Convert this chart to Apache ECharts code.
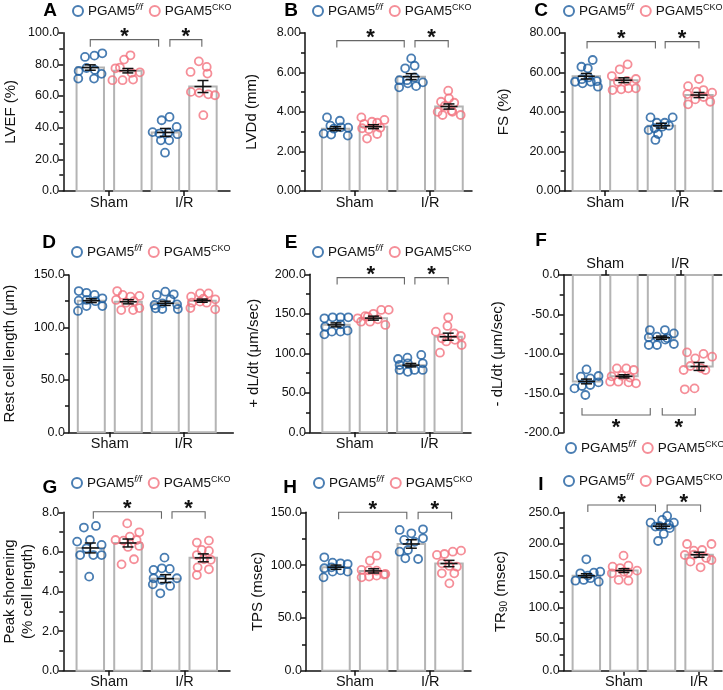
<!DOCTYPE html>
<html>
<head>
<meta charset="utf-8">
<script src="https://cdn.jsdelivr.net/npm/echarts@6/dist/echarts.min.js"></script>
<style>
html, body { margin: 0; padding: 0; background: #fff; }
#main { width: 723px; height: 690px; }
</style>
</head>
<body>
<div id="main"></div>
<script>
// groups: Sham f/f, Sham CKO, I/R f/f, I/R CKO
var seriesNames = ['PGAM5f/f', 'PGAM5CKO'];
var conditions = ['Sham', 'I/R'];

// bar means and SEM
var meanA = [78, 76, 37, 66],          semA = [1.7, 1.4, 2.5, 3.8];
var meanB = [3.15, 3.25, 5.78, 4.27],  semB = [0.1, 0.1, 0.15, 0.13];
var meanC = [58, 56, 33, 48.5],        semC = [1.4, 1.2, 1.2, 1.3];
var meanD = [125.5, 124.5, 123, 125.5], semD = [1.8, 2, 2, 1.5];
var meanE = [136, 144.5, 85, 121],     semE = [2.5, 2.5, 2.2, 4.5];
var meanF = [-135, -128.5, -79.5, -116], semF = [3, 2, 2, 5];
var meanG = [6.2, 6.45, 4.65, 5.7],    semG = [0.25, 0.2, 0.2, 0.2];
var meanH = [98, 94.5, 120, 101.5],    semH = [2, 2, 4, 3];
var meanI = [150, 158, 228, 183],      semI = [3, 3, 3.5, 4];

// individual points (values) and their horizontal jitter
var valsA = [[84.7,85.5,87.0,75.8,77.7,76.5,71.0,71.0,74.0],[77.5,83.0,85.7,74.6,75.0,70.0,70.0,70.4,78.0],[37.2,44.7,46.8,40.5,35.9,36.3,36.8,32.0,32.0,24.2],[81.9,78.4,75.2,74.2,62.6,62.0,61.1,60.5,47.9]];
var jitA  = [[-0.14,0.11,0.32,-0.31,-0.10,0.12,-0.32,0.10,0.30],[-0.33,-0.10,0.07,0.10,0.32,-0.41,-0.14,0.14,-0.21],[-0.34,-0.10,0.11,0.30,0.32,-0.16,0.08,-0.12,0.10,-0.01],[-0.11,0.10,-0.33,0.12,-0.32,-0.10,0.14,0.32,0.01]];
var valsB = [[3.72,3.55,3.30,3.22,3.20,3.15,2.90,2.85,2.80],[3.72,3.50,3.39,3.45,3.59,3.17,3.12,3.20,2.88,2.65],[6.70,6.20,6.33,5.60,5.60,5.74,5.49,5.24,5.44,5.30],[5.07,4.68,4.51,4.46,4.00,4.30,4.00,3.84,4.05,3.84]];
var jitB  = [[-0.23,0.11,-0.14,0.14,0.33,-0.05,-0.32,-0.12,0.32],[-0.32,-0.04,-0.25,0.10,0.29,-0.30,-0.12,0.18,0.10,-0.17],[0.0,-0.16,0.09,-0.31,-0.11,0.09,0.31,-0.32,-0.09,0.13],[-0.02,0.0,-0.21,0.14,-0.30,-0.11,0.09,-0.17,0.07,0.31]];
var valsC = [[66.2,62.8,62.0,55.2,56.5,57.4,55.5,54.4,55.2,52.7],[64.0,61.5,58.1,55.2,55.7,56.6,51.0,51.4,51.9,51.9],[37.2,37.2,34.5,34.5,31.7,32.5,33.0,30.8,28.8,25.8],[56.6,53.0,49.0,50.2,51.0,49.7,46.3,47.5,43.8,45.1]];
var jitC  = [[0.17,-0.13,0.04,-0.30,-0.12,0.06,0.28,-0.10,0.12,0.31],[0.10,-0.11,-0.32,-0.16,0.08,0.32,-0.30,-0.07,0.12,0.32],[-0.29,0.30,-0.12,0.09,-0.18,0.02,0.20,-0.34,-0.09,-0.16],[0.0,-0.29,-0.31,-0.07,0.12,0.35,-0.10,0.12,-0.29,0.30]];
var valsD = [[134.7,133.0,131.0,125.5,126.2,125.0,127.8,115.7,120.4,120.4],[134.7,131.0,129.3,130.0,126.2,123.6,125.0,116.6,116.6,118.5],[134.1,131.0,131.6,121.4,123.0,126.8,122.0,118.2,117.6,117.6],[132.5,132.5,129.3,127.5,126.8,123.6,124.6,123.6,117.3,118.5]];
var jitD  = [[-0.34,-0.13,0.09,-0.34,-0.13,0.11,0.30,-0.36,-0.13,0.30],[-0.30,-0.15,0.06,0.30,-0.33,-0.06,0.15,-0.19,0.13,0.30],[0.0,-0.23,0.23,-0.29,-0.08,0.14,0.32,-0.26,-0.08,0.34],[-0.06,0.17,-0.30,0.03,0.35,-0.28,-0.06,0.12,0.35,-0.32]];
var valsE = [[144.3,145.6,145.6,145.6,133.8,136.7,124.0,127.4,127.4,128.7],[155.0,154.9,150.0,147.0,144.3,146.4,143.0,140.0,140.0,135.9],[97.9,94.5,92.8,85.2,87.3,87.3,78.9,76.5,78.9,78.9],[145.6,134.6,127.4,125.3,119.0,121.9,115.0,110.5,100.8,117.0]];
var jitE  = [[-0.31,-0.09,0.12,0.33,-0.29,0.12,-0.31,-0.11,0.12,0.31],[0.41,0.21,0.0,-0.22,-0.42,-0.15,0.12,-0.33,-0.09,0.32],[0.28,-0.09,-0.34,-0.30,-0.08,0.32,-0.30,-0.08,0.10,0.32],[0.0,-0.02,-0.33,0.16,-0.17,0.34,-0.05,0.36,-0.22,0.18]];
var valsF = [[-119.7,-129.0,-131.1,-128.1,-143.8,-140.8,-139.5,-136.2,-152.2],[-118.4,-118.4,-120.5,-128.5,-127.7,-130.0,-135.3,-135.3,-136.2,-137.4],[-69.8,-69.8,-74.0,-78.2,-79.1,-80.0,-88.8,-88.8,-82.0,-87.5],[-98.1,-100.0,-103.6,-105.7,-115.4,-118.0,-120.5,-120.5,-145.0,-143.8]];
var jitF  = [[0.0,-0.15,0.10,0.32,-0.32,-0.12,0.10,0.32,-0.03],[-0.19,0.06,0.26,-0.33,-0.06,0.16,-0.37,-0.15,0.12,0.32],[-0.31,0.09,0.33,-0.12,-0.34,0.15,-0.34,-0.12,0.10,0.33],[-0.32,0.12,0.35,-0.10,-0.23,0.05,0.17,-0.41,-0.38,-0.12]];
var valsG = [[7.23,7.31,6.52,6.60,6.18,6.35,5.84,5.84,5.84,4.75],[7.44,6.99,6.77,6.60,6.57,6.60,6.30,6.25,5.63,5.37],[5.71,5.09,5.17,5.14,4.67,4.67,4.58,4.28,4.36,3.91],[6.47,6.57,6.10,6.05,5.84,5.63,5.60,5.22,5.12,4.83]];
var jitG  = [[-0.17,0.15,-0.35,-0.01,-0.10,0.30,-0.27,0.08,0.30,-0.03],[-0.02,0.30,0.05,-0.33,-0.12,0.23,0.30,0.0,0.16,-0.17],[-0.03,-0.32,-0.10,0.11,-0.32,0.30,-0.10,0.12,-0.34,-0.14],[-0.17,0.15,-0.04,0.15,-0.17,0.02,0.20,-0.15,0.15,-0.17]];
var valsH = [[107.4,102.3,101.7,101.0,97.0,97.9,88.4,93.8,95.0,93.8],[108.9,104.2,95.4,95.0,94.7,91.6,88.4,89.1,90.0,91.0],[133.3,133.9,130.1,123.8,122.0,125.4,112.7,114.3,106.4,105.8],[113.7,112.7,109.6,110.5,101.7,99.2,98.5,92.2,92.2,82.7]];
var jitH  = [[-0.31,-0.09,0.12,0.31,-0.31,-0.12,-0.33,-0.09,0.12,0.31],[0.08,-0.10,-0.32,-0.13,0.08,0.31,-0.32,-0.12,0.08,0.28],[-0.31,0.31,0.0,-0.19,0.09,0.31,-0.31,-0.09,-0.16,0.18],[0.32,0.10,-0.32,-0.12,-0.19,0.01,0.21,-0.19,0.14,0.01]];
var valsI = [[175.8,156.3,154.7,153.7,150.0,142.1,143.2,146.0,140.5],[181.6,164.2,162.0,165.8,157.9,153.7,155.0,143.2,142.1,156.0],[244.2,233.7,237.9,233.7,227.4,230.0,215.8,204.7,225.0,228.0],[200.0,200.0,189.5,190.5,182.6,183.0,174.7,172.1,163.2,178.0]];
var jitI  = [[0.0,0.37,0.20,-0.16,0.04,-0.29,-0.07,0.11,0.33],[-0.01,-0.30,-0.10,0.12,0.35,-0.32,0.11,-0.14,0.12,0.0],[0.15,-0.29,0.02,0.33,-0.16,0.20,0.06,-0.09,0.22,-0.05],[-0.32,0.33,-0.14,0.08,-0.38,-0.14,0.33,-0.23,0.04,0.19]];

// significance brackets: [from, to, level]
var brA = [[1.0, 2.82, 95.6], [3.12, 3.97, 95.6]];
var brB = [[1.03, 2.815, 7.6], [3.1, 3.98, 7.6]];
var brC = [[1.02, 2.84, 75.5], [3.1, 4.0, 75.5]];
var brD = [];
var brE = [[1.03, 2.83, 195.8], [3.11, 4.0, 195.8]];
var brF = [[0.88, 2.7, -177.6], [3.02, 3.9, -177.6]];
var brG = [[1.08, 2.89, 8.03], [3.17, 4.05, 8.03]];
var brH = [[1.07, 2.88, 150], [3.18, 4.07, 150]];
var brI = [[1.04, 2.84, 261.6], [3.15, 4.04, 261.6]];

var barPos = [1, 2, 3, 4];

var BLUE = '#1b5c9f';
var PINK = '#f2727e';
var FONT = '"Liberation Sans", Arial, sans-serif';
var BAR_W = 0.73;

var panels = [
  { key: 'A', mean: meanA, sem: semA, vals: valsA, jit: jitA, br: brA, y: [0, 100, 20], dec: 1, name: 'LVEF (%)',
    grid: { left: 63.3, top: 32.7, width: 166.7, height: 158.3 }, x: [0.282, 4.72], gap: 43, leg: [72, 3], letter: [50, 11], ticks: [1.5, 3.5] },
  { key: 'B', mean: meanB, sem: semB, vals: valsB, jit: jitB, br: brB, y: [0, 8, 2], dec: 2, name: 'LVDd (mm)',
    grid: { left: 305, top: 32.7, width: 167, height: 158.3 }, x: [0.187, 4.61], gap: 44, leg: [312, 3], letter: [291, 11], ticks: [1.5, 3.5] },
  { key: 'C', mean: meanC, sem: semC, vals: valsC, jit: jitC, br: brC, y: [0, 80, 20], dec: 2, name: 'FS (%)',
    grid: { left: 564.7, top: 32.7, width: 157, height: 158.3 }, x: [0.425, 4.605], gap: 52, leg: [563, 3], letter: [541, 11], ticks: [1.5, 3.5] },
  { key: 'D', mean: meanD, sem: semD, vals: valsD, jit: jitD, br: brD, y: [0, 150, 50], dec: 1, name: 'Rest cell length (μm)',
    grid: { left: 68.3, top: 275, width: 165, height: 157.3 }, x: [0.397, 4.84], gap: 50, leg: [71, 244], letter: [49, 242.7], ticks: [1.5, 3.5] },
  { key: 'E', mean: meanE, sem: semE, vals: valsE, jit: jitE, br: brE, y: [0, 200, 50], dec: 1, name: '+ dL/dt (μm/sec)',
    grid: { left: 310, top: 274.3, width: 161, height: 158 }, x: [0.305, 4.61], gap: 47, leg: [312, 244], letter: [291, 242.7], ticks: [1.5, 3.5] },
  { key: 'F', mean: meanF, sem: semF, vals: valsF, jit: jitF, br: brF, y: [-200, 0, 50], dec: 1, name: '- dL/dt (μm/sec)',
    grid: { left: 563.7, top: 275, width: 158, height: 157.7 }, x: [0.392, 4.605], gap: 57, leg: [565, 440], letter: [541, 241], ticks: [1.5, 3.5], flip: true },
  { key: 'G', mean: meanG, sem: semG, vals: valsG, jit: jitG, br: brG, y: [0, 8, 2], dec: 1, name: 'Peak shorening\n(% cell length)',
    grid: { left: 63.3, top: 512.3, width: 166.7, height: 158.4 }, x: [0.283, 4.71], gap: 26, leg: [71, 475], letter: [50, 487.7], ticks: [1.5, 3.5] },
  { key: 'H', mean: meanH, sem: semH, vals: valsH, jit: jitH, br: brH, y: [0, 150, 50], dec: 1, name: 'TPS (msec)',
    grid: { left: 306, top: 512.3, width: 165, height: 158.4 }, x: [0.204, 4.584], gap: 39, leg: [313, 475], letter: [290, 487.7], ticks: [1.5, 3.5] },
  { key: 'I', mean: meanI, sem: semI, vals: valsI, jit: jitI, br: brI, y: [0, 250, 50], dec: 1, name: '{a|TR}{b|90}{a| (msec)}',
    grid: { left: 563.7, top: 512.3, width: 158.3, height: 158.4 }, x: [0.398, 4.61], gap: 54, leg: [563, 473], letter: [541, 485], ticks: [2, 4] }
];

function renderBar(params, api) {
  var x = api.value(0), v = api.value(1);
  var p0 = api.coord([x, 0]), p1 = api.coord([x, v]);
  var w = api.size([BAR_W, 0])[0];
  return {
    type: 'rect',
    shape: { x: p0[0] - w / 2, y: Math.min(p0[1], p1[1]), width: w, height: Math.abs(p1[1] - p0[1]) },
    style: { fill: '#fff', stroke: '#b4b4b4', lineWidth: 2 }
  };
}

function renderErr(params, api) {
  var x = api.value(0), m = api.value(1), s = api.value(2);
  var pm = api.coord([x, m]), pt = api.coord([x, m + s]), pb = api.coord([x, m - s]);
  var st = { stroke: '#111', lineWidth: 1.5 };
  return {
    type: 'group',
    children: [
      { type: 'line', shape: { x1: pm[0], y1: pt[1], x2: pm[0], y2: pb[1] }, style: st },
      { type: 'line', shape: { x1: pm[0] - 8.5, y1: pm[1], x2: pm[0] + 8.5, y2: pm[1] }, style: st },
      { type: 'line', shape: { x1: pm[0] - 5.5, y1: pt[1], x2: pm[0] + 5.5, y2: pt[1] }, style: st },
      { type: 'line', shape: { x1: pm[0] - 5.5, y1: pb[1], x2: pm[0] + 5.5, y2: pb[1] }, style: st }
    ]
  };
}

function bracketRenderer(dir) {
  return function (params, api) {
    var lvl = api.value(2);
    var a = api.coord([api.value(0), lvl]), b = api.coord([api.value(1), lvl]);
    var t = 7 * dir;
    return {
      type: 'group',
      children: [
        { type: 'polyline', shape: { points: [[a[0], a[1] + t], [a[0], a[1]], [b[0], b[1]], [b[0], b[1] + t]] },
          style: { stroke: '#666', lineWidth: 1.1, fill: 'none' } },
        { type: 'text', style: { text: '*', x: (a[0] + b[0]) / 2, y: dir > 0 ? a[1] - 2.5 : a[1] + 13,
          align: 'center', verticalAlign: 'middle', fontSize: 22, fontWeight: 'bold', fontFamily: FONT, fill: '#111' } }
      ]
    };
  };
}

function legendFmt(name) {
  return name === 'PGAM5f/f' ? '{m|PGAM5}{s|f/f}' : '{m|PGAM5}{c|CKO}';
}

var option = {
  backgroundColor: '#fff',
  animation: false,
  textStyle: { fontFamily: FONT },
  grid: [], xAxis: [], yAxis: [], series: [], legend: [], graphic: []
};

panels.forEach(function (p, i) {
  option.grid.push(Object.assign({ containLabel: false }, p.grid));
  option.xAxis.push({
    type: 'value', gridIndex: i, min: p.x[0], max: p.x[1],
    position: p.flip ? 'top' : 'bottom',
    axisLine: { show: true, onZero: false, lineStyle: { color: '#111', width: 1.5 } },
    axisTick: { show: true, customValues: p.ticks, length: 5, lineStyle: { color: '#111', width: 1.5 } },
    axisLabel: { show: true, customValues: p.ticks, margin: 4, fontSize: 14.5, color: '#111', fontFamily: FONT,
      formatter: function (v) { return v < p.ticks[1] - 0.5 ? conditions[0] : conditions[1]; } },
    splitLine: { show: false }
  });
  option.yAxis.push({
    type: 'value', gridIndex: i, min: p.y[0], max: p.y[1], interval: p.y[2],
    name: p.name, nameLocation: 'middle', nameGap: p.gap,
    nameTextStyle: { fontSize: 15, color: '#111', fontFamily: FONT, lineHeight: 18,
      rich: { a: { fontSize: 15, color: '#111', fontFamily: FONT, lineHeight: 18 },
              b: { fontSize: 10, color: '#111', fontFamily: FONT, lineHeight: 18, verticalAlign: 'bottom', padding: [6, 0, 0, 0] } } },
    axisLine: { show: true, lineStyle: { color: '#111', width: 1.5 } },
    axisTick: { show: true, length: 5, lineStyle: { color: '#111', width: 1.5 } },
    minorTick: { show: true, splitNumber: 2, length: 4, lineStyle: { color: '#111', width: 1.5 } },
    axisLabel: { fontSize: 12.5, color: '#111', margin: 4, fontFamily: FONT,
      formatter: function (v) { return v.toFixed(p.dec); } },
    splitLine: { show: false }
  });

  option.series.push({
    type: 'custom', xAxisIndex: i, yAxisIndex: i, z: 1, silent: true,
    renderItem: renderBar,
    data: barPos.map(function (x, k) { return [x, p.mean[k]]; })
  });

  [0, 1].forEach(function (s) {
    var data = [];
    [s, s + 2].forEach(function (g) {
      p.vals[g].forEach(function (v, k) { data.push([barPos[g] + p.jit[g][k], v]); });
    });
    option.series.push({
      type: 'scatter', name: seriesNames[s], xAxisIndex: i, yAxisIndex: i, z: 3,
      symbol: 'circle', symbolSize: 8,
      itemStyle: { color: 'rgba(255,255,255,0)', borderColor: s === 0 ? BLUE : PINK, borderWidth: 1.8 },
      data: data
    });
  });

  option.series.push({
    type: 'custom', xAxisIndex: i, yAxisIndex: i, z: 4, silent: true,
    renderItem: renderErr,
    data: barPos.map(function (x, k) { return [x, p.mean[k], p.sem[k]]; })
  });

  if (p.br.length) {
    option.series.push({
      type: 'custom', xAxisIndex: i, yAxisIndex: i, z: 5, silent: true, clip: false,
      renderItem: bracketRenderer(p.flip ? -1 : 1),
      data: p.br
    });
  }

  option.legend.push({
    left: p.leg[0], top: p.leg[1], width: 200, padding: 0, itemGap: 6, itemWidth: 10, itemHeight: 10,
    selectedMode: false, formatter: legendFmt,
    textStyle: {
      rich: {
        m: { fontSize: 13.5, color: '#111', fontFamily: FONT, lineHeight: 16 },
        s: { fontSize: 9, color: '#111', fontFamily: FONT, fontStyle: 'italic', lineHeight: 16, verticalAlign: 'top', padding: [0, 0, 6, 0] },
        c: { fontSize: 9, color: '#111', fontFamily: FONT, lineHeight: 16, verticalAlign: 'top', padding: [0, 0, 6, 0] }
      }
    },
    data: [
      { name: seriesNames[0], icon: 'circle', itemStyle: { color: '#fff', borderColor: BLUE, borderWidth: 2 } },
      { name: seriesNames[1], icon: 'circle', itemStyle: { color: '#fff', borderColor: PINK, borderWidth: 2 } }
    ]
  });

  option.graphic.push({
    type: 'text', x: p.letter[0], y: p.letter[1],
    style: { text: p.key, align: 'center', verticalAlign: 'middle', fontSize: 19, fontWeight: 'bold', fontFamily: FONT, fill: '#000' }
  });
});

var chart = echarts.init(document.getElementById('main'));
chart.setOption(option);
</script>
</body>
</html>
